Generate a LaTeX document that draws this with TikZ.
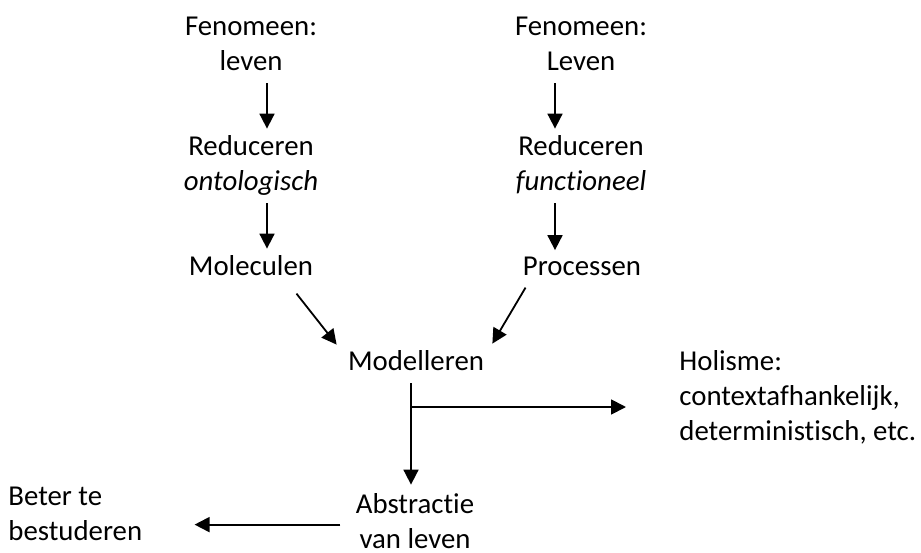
\documentclass[tikz,border=0pt]{standalone}
\usepackage{fontspec}
\setmainfont{Carlito}[Ligatures={NoCommon,NoRare}]
\usepackage{tikz}
\usetikzlibrary{arrows.meta}
\usetikzlibrary{positioning}
\tikzset{
	txt/.style={inner sep=0pt, align=center, font=\fontsize{14.4}{17.5}\selectfont},
	txtleft/.style={inner sep=0pt, align=left, font=\fontsize{14.4}{17.5}\selectfont},
	arr/.style={draw=black, line width=0.9pt, -{Triangle[width=7.5pt,length=7.5pt]}},
}
\begin{document}
\begin{tikzpicture}[x=0.5pt,y=-0.5pt]
\useasboundingbox (0,0) rectangle (921,552);
% left column
\node[txt,anchor=base] (fenL) at (251,70) {Fenomeen:\\leven};
\node[txt,anchor=base] (redL) at (251,190) {Reduceren\\\textit{ontologisch}};
\node[txt,anchor=base] (molL) at (251,275) {Moleculen};
% right column
\node[txt,anchor=base] (fenR) at (581,70) {Fenomeen:\\Leven};
\node[txt,anchor=base] (redR) at (581,190) {Reduceren\\\textit{functioneel}};
\node[txt,anchor=base] (proR) at (582,275) {Processen};
% middle and bottom
\node[txt,anchor=base] (mod) at (416,370) {Modelleren};
\node[txtleft,anchor=base west] (hol) at (679,440) {Holisme:\\contextafhankelijk,\\deterministisch, etc.};
\node[txt,anchor=base] (abs) at (415,548) {Abstractie\\van leven};
\node[txtleft,anchor=base west] (bet) at (8,540) {Beter te\\bestuderen};

\draw[arr,shorten <=6.5pt,shorten >=3pt] ([xshift=8pt]fenL.base) -- ([xshift=8pt]fenL.base |- redL.north);
\draw[arr,shorten <=6.5pt,shorten >=3pt] ([xshift=8pt]redL.base) -- ([xshift=8pt]redL.base |- molL.north);
\draw[arr,shorten <=6.5pt,shorten >=3pt] ([xshift=-13pt]fenR.base) -- ([xshift=-13pt]fenR.base |- redR.north);
\draw[arr,shorten <=6.5pt,shorten >=3pt] ([xshift=-13pt]redR.base) -- ([xshift=-13pt]redR.base |- proR.north);
\draw[arr] ([xshift=-8.5pt,yshift=-9pt]molL.south east) -- ([xshift=-5.5pt,yshift=2.5pt]mod.north west);
\draw[arr] ([xshift=1.5pt,yshift=-6pt]proR.south west) -- ([xshift=4pt,yshift=3pt]mod.north east);
\draw[arr,shorten <=6.5pt,shorten >=4pt] ([xshift=-2.5pt]mod.base) -- ([xshift=-2.5pt]mod.base |- abs.north);
\coordinate (br) at ([xshift=-2.5pt,yshift=-18.5pt]mod.base);
\draw[arr,shorten >=26.5pt] (br) -- (br -| hol.west);
\draw[arr,shorten <=7.5pt,shorten >=26pt] ([yshift=-2pt]abs.west) -- ([yshift=-2pt]abs.west -| bet.east);
\end{tikzpicture}
\end{document}
